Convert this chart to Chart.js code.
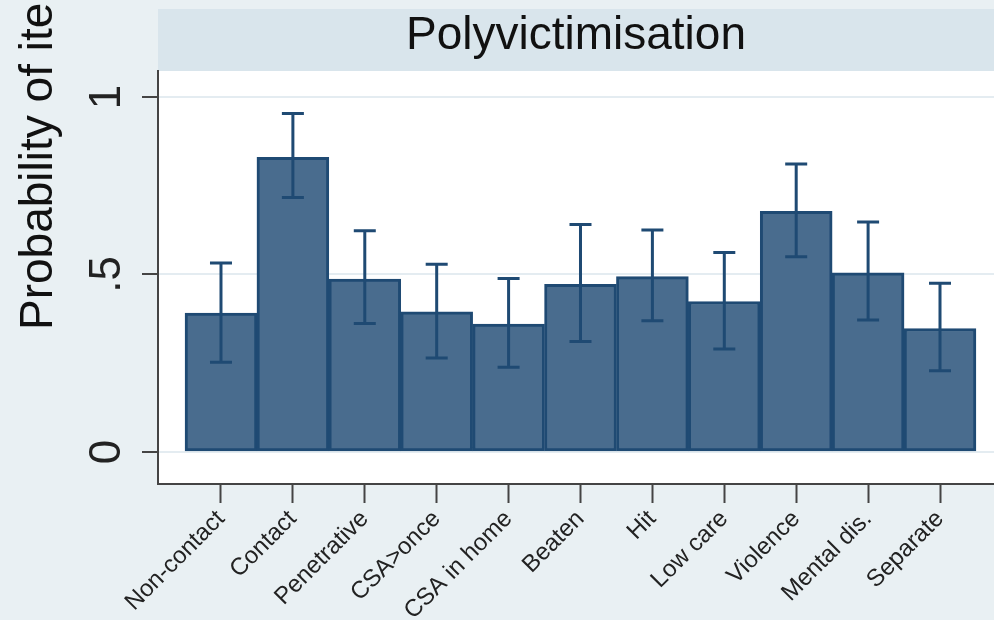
<!DOCTYPE html>
<html>
<head>
<meta charset="utf-8">
<script src="https://cdn.jsdelivr.net/npm/chart.js@4"></script>
<style>
  html, body { margin: 0; padding: 0; background: #e9f0f3; }
  canvas { display: block; }
</style>
</head>
<body>
<canvas id="chart" width="994" height="620"></canvas>
<script>
// Item categories and estimated probabilities with 95% confidence limits
const categories = ['Non-contact', 'Contact', 'Penetrative', 'CSA>once', 'CSA in home', 'Beaten', 'Hit', 'Low care', 'Violence', 'Mental dis.', 'Separate'];
const probability = [0.391, 0.830, 0.487, 0.395, 0.360, 0.472, 0.494, 0.424, 0.678, 0.505, 0.348];
const ciLower = [0.253, 0.717, 0.362, 0.265, 0.239, 0.311, 0.370, 0.290, 0.550, 0.372, 0.229];
const ciUpper = [0.532, 0.953, 0.623, 0.529, 0.489, 0.641, 0.625, 0.562, 0.811, 0.648, 0.475];
const yTickValues = [0, 0.5, 1];
const yTickLabels = ['0', '.5', '1'];
const panelTitle = 'Polyvictimisation';
const yAxisTitle = 'Probability of item';

const FONT = '"Liberation Sans", Arial, Helvetica, sans-serif';
Chart.defaults.font.family = FONT;

// Page background, panel header strip, white plot region and the axis title
const panelPlugin = {
  id: 'panel',
  beforeDraw(chart) {
    const { ctx, chartArea: a, width, height } = chart;
    ctx.save();
    ctx.fillStyle = '#e9f0f3';
    ctx.fillRect(0, 0, width, height);
    ctx.fillStyle = '#d9e5ec';
    ctx.fillRect(a.left, 9, width - a.left, a.top - 9);
    ctx.fillStyle = '#ffffff';
    ctx.fillRect(a.left, a.top, width - a.left, a.bottom - a.top);

    ctx.fillStyle = '#111111';
    ctx.font = '46px ' + FONT;
    ctx.textAlign = 'center';
    ctx.textBaseline = 'alphabetic';
    ctx.fillText(panelTitle, (a.left + a.right) / 2, 49);

    ctx.translate(52, 330);
    ctx.rotate(-Math.PI / 2);
    ctx.textAlign = 'left';
    ctx.font = '46px ' + FONT;
    ctx.fillText(yAxisTitle, 0, 0);
    ctx.restore();
  }
};

// Capped confidence-interval whiskers drawn over each bar
const errorBarPlugin = {
  id: 'errorBars',
  afterDatasetsDraw(chart) {
    const { ctx, scales: { x, y } } = chart;
    const cap = 11;
    ctx.save();
    ctx.strokeStyle = '#1f4a73';
    ctx.lineWidth = 3;
    categories.forEach((_, i) => {
      const px = x.getPixelForValue(i);
      const top = y.getPixelForValue(ciUpper[i]);
      const bot = y.getPixelForValue(ciLower[i]);
      ctx.beginPath();
      ctx.moveTo(px, top); ctx.lineTo(px, bot);
      ctx.moveTo(px - cap, top); ctx.lineTo(px + cap, top);
      ctx.moveTo(px - cap, bot); ctx.lineTo(px + cap, bot);
      ctx.stroke();
    });
    ctx.restore();
  }
};

new Chart(document.getElementById('chart'), {
  type: 'bar',
  data: {
    datasets: [{
      data: probability.map((v, i) => ({ x: i, y: v })),
      backgroundColor: '#496c8e',
      borderColor: '#1f4a73',
      borderWidth: 3,
      borderSkipped: false,
      barPercentage: 1,
      categoryPercentage: 1
    }]
  },
  options: {
    responsive: false,
    animation: false,
    devicePixelRatio: 1,
    layout: { padding: { top: 71, left: 0, right: 0, bottom: 0 }, autoPadding: false },
    plugins: {
      legend: { display: false },
      tooltip: { enabled: false },
      title: { display: false }
    },
    scales: {
      x: {
        type: 'linear',
        min: -0.876,
        max: 10.751,
        offset: false,
        afterBuildTicks: (s) => { s.ticks = categories.map((_, i) => ({ value: i })); },
        afterFit: (s) => { s.height = 136; },
        ticks: {
          autoSkip: false,
          minRotation: 45,
          maxRotation: 45,
          padding: 2,
          color: '#222222',
          font: { size: 24 },
          callback: (v) => categories[v]
        },
        grid: { offset: false, drawOnChartArea: false, drawTicks: true, tickLength: 19, tickColor: '#444444', tickWidth: 2 },
        border: { display: true, color: '#444444', width: 2 }
      },
      y: {
        min: -0.09,
        max: 1.073,
        afterBuildTicks: (s) => { s.ticks = yTickValues.map((v) => ({ value: v })); },
        afterFit: (s) => { s.width = 158; },
        ticks: {
          minRotation: 90,
          maxRotation: 90,
          crossAlign: 'center',
          padding: 16,
          color: '#222222',
          font: { size: 44 },
          callback: (v) => yTickLabels[yTickValues.indexOf(v)]
        },
        grid: { color: '#e4ecf1', lineWidth: 2, tickLength: 16, tickColor: '#444444', tickWidth: 2 },
        border: { color: '#444444', width: 2 }
      }
    }
  },
  plugins: [panelPlugin, errorBarPlugin]
});
</script>
</body>
</html>
